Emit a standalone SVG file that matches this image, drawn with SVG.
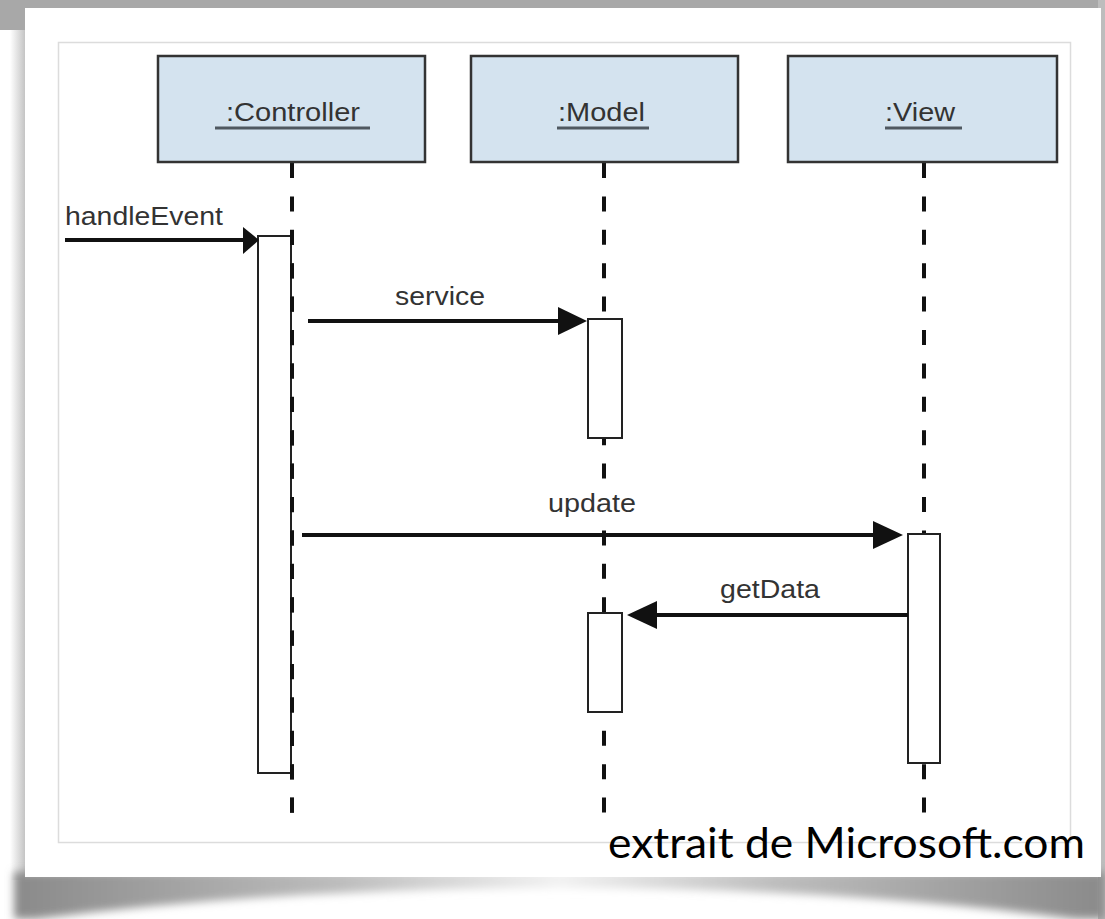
<svg xmlns="http://www.w3.org/2000/svg" width="1105" height="919" viewBox="0 0 1105 919">
<defs>
<style>
.box{fill:#d4e3ef;stroke:#333;stroke-width:2.5}
.lbl{font-family:"Liberation Sans",Arial,sans-serif;font-size:25px;fill:#333}
.ul{stroke:#4f5860;stroke-width:3}
.life{stroke:#111;stroke-width:4;stroke-dasharray:15 18.4;fill:none}
.act{fill:#fff;stroke:#222;stroke-width:2}
.msg{stroke:#111;stroke-width:4;fill:none}
.head{fill:#111}
</style>
<linearGradient id="shadowH" x1="0" y1="0" x2="1" y2="0">
<stop offset="0" stop-color="#8a8a8a"/>
<stop offset="0.3" stop-color="#bdbdbd"/>
<stop offset="0.5" stop-color="#f2f2f2"/>
<stop offset="0.7" stop-color="#bdbdbd"/>
<stop offset="1" stop-color="#8a8a8a"/>
</linearGradient>
<linearGradient id="leftSh" x1="0" y1="0" x2="1" y2="0">
<stop offset="0" stop-color="#fff"/>
<stop offset="1" stop-color="#c4c4c4"/>
</linearGradient>
<filter id="blur" x="-5%" y="-50%" width="110%" height="200%"><feGaussianBlur stdDeviation="4"/></filter>
</defs>
<rect x="0" y="0" width="1105" height="919" fill="#fff"/>
<g id="frame">
<rect x="0" y="0" width="1105" height="8" fill="#a8a8a8"/>
<rect x="0" y="0" width="25" height="30" fill="#a8a8a8"/>
<rect x="10" y="30" width="15" height="850" fill="url(#leftSh)"/>
<rect x="1098" y="0" width="7" height="919" fill="#bdbdbd"/>
<path d="M14 872 L1105 872 L1105 919 L1075 919 Q840 888 560 888 Q280 888 35 919 L14 919 Z" fill="url(#shadowH)" filter="url(#blur)"/>
<rect x="25" y="8" width="1076" height="869" fill="#fff"/>
<rect x="58.5" y="42.5" width="1012" height="800" fill="none" stroke="#dcdcdc" stroke-width="1.5"/>
</g>
<g id="connectors">
<line class="life" x1="292" y1="163" x2="292" y2="813"/>
<line class="life" x1="604" y1="163" x2="604" y2="813"/>
<line class="life" x1="924" y1="163" x2="924" y2="813"/>
</g>
<g id="controller">
<rect class="box" x="158" y="56" width="267" height="106"/>
<text class="lbl" x="226" y="121" textLength="134" lengthAdjust="spacingAndGlyphs">:Controller</text>
<line class="ul" x1="215" y1="128" x2="370" y2="128"/>
</g>
<g id="model">
<rect class="box" x="471" y="56" width="267" height="106"/>
<text class="lbl" x="558" y="121" textLength="87" lengthAdjust="spacingAndGlyphs">:Model</text>
<line class="ul" x1="557" y1="128" x2="649" y2="128"/>
</g>
<g id="view">
<rect class="box" x="788" y="56" width="269" height="106"/>
<text class="lbl" x="885" y="121" textLength="70" lengthAdjust="spacingAndGlyphs">:View</text>
<line class="ul" x1="885" y1="128" x2="962" y2="128"/>
</g>
<g id="activations">
<rect class="act" x="258" y="236" width="33" height="537"/>
<rect class="act" x="588" y="319" width="34" height="119"/>
<rect class="act" x="588" y="613" width="34" height="99"/>
<rect class="act" x="908" y="534" width="32" height="229"/>
<line class="life" x1="292" y1="230" x2="292" y2="813"/>
</g>
<g id="messages">
<line class="msg" x1="65" y1="240" x2="246" y2="240"/>
<polygon class="head" points="243,227 259,240 243,254"/>
<text class="lbl" x="65" y="225" textLength="158" lengthAdjust="spacingAndGlyphs">handleEvent</text>
<line class="msg" x1="308" y1="321" x2="562" y2="321"/>
<polygon class="head" points="558,307 587,321 558,335"/>
<text class="lbl" x="395" y="305" textLength="90" lengthAdjust="spacingAndGlyphs">service</text>
<line class="msg" x1="302" y1="535" x2="878" y2="535"/>
<polygon class="head" points="873,521 903,535 873,549"/>
<rect x="546" y="490" width="92" height="30" fill="#fff"/>
<text class="lbl" x="548" y="512" textLength="88" lengthAdjust="spacingAndGlyphs">update</text>
<line class="msg" x1="908" y1="615" x2="652" y2="615"/>
<polygon class="head" points="657,601 627,615 657,629"/>
<text class="lbl" x="720" y="598" textLength="100" lengthAdjust="spacingAndGlyphs">getData</text>
</g>
<text x="608" y="858" font-family="Lato,'Open Sans',sans-serif" font-size="42" fill="#000" textLength="477" lengthAdjust="spacingAndGlyphs">extrait de Microsoft.com</text>
</svg>
